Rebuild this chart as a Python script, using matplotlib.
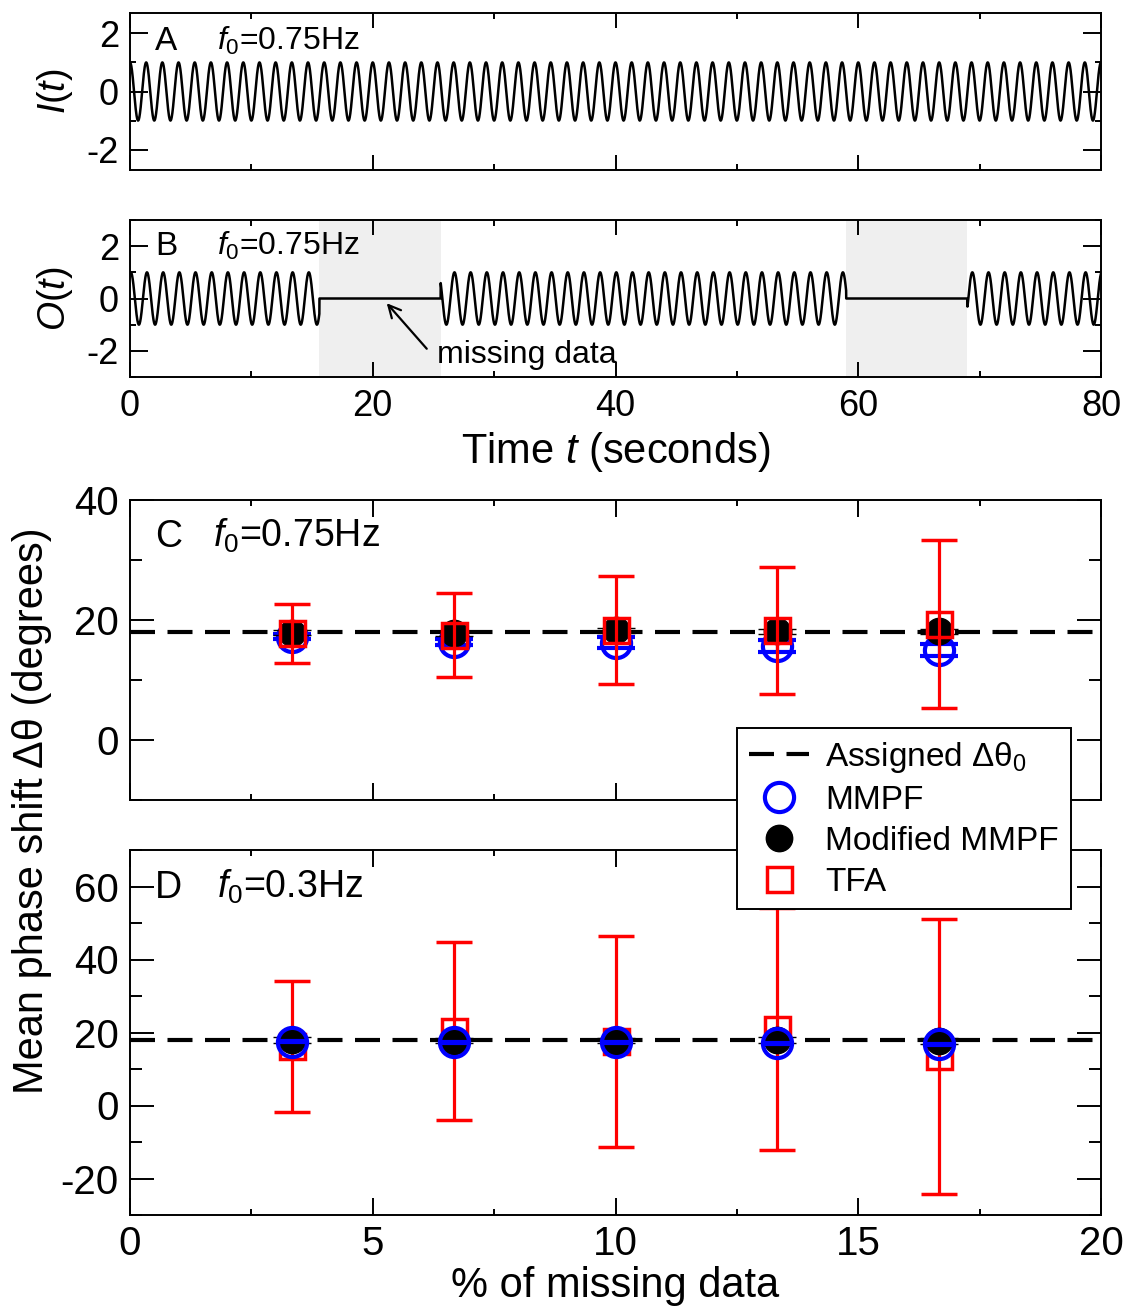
import numpy as np
import matplotlib
matplotlib.use("Agg")
import matplotlib.pyplot as plt
from matplotlib.lines import Line2D
from matplotlib.ticker import MultipleLocator


# -----------------------------
# Data
# -----------------------------
F0_TOP = 0.75          # Hz, test signal in panels A and B
PHASE_SHIFT = 18.0     # degrees, assigned phase shift
T_END = 80.0
GAPS = [(15.6, 25.6), (59.0, 69.0)]   # missing data intervals (s)

pct_missing = [3.33, 6.67, 10.0, 13.33, 16.67]

# panel C, f0 = 0.75 Hz
mmpf_c = [17.2, 16.3, 16.2, 15.6, 15.0]
mmpf_c_err = [0.4, 0.5, 0.9, 1.0, 1.0]
mod_c = [17.9, 17.8, 18.3, 18.1, 18.1]
mod_c_err = [0.4, 0.4, 0.4, 0.4, 0.4]
tfa_c = [17.8, 17.5, 18.3, 18.3, 19.3]
tfa_c_err = [4.9, 7.0, 9.0, 10.6, 14.0]

# panel D, f0 = 0.3 Hz
mmpf_d = [17.5, 17.3, 17.3, 17.0, 16.8]
mmpf_d_err = [0.15, 0.15, 0.15, 0.15, 0.15]
mod_d = [17.9, 17.8, 17.8, 17.9, 17.7]
mod_d_err = [0.8, 0.8, 0.8, 0.8, 0.8]
tfa_d = [16.2, 20.4, 17.6, 21.0, 13.5]
tfa_d_err = [17.9, 24.5, 28.9, 33.1, 37.7]


# -----------------------------
# Style
# -----------------------------
plt.rcParams["font.family"] = ["Liberation Sans", "DejaVu Sans"]
plt.rcParams["mathtext.fontset"] = "custom"
plt.rcParams["mathtext.rm"] = "Liberation Sans"
plt.rcParams["mathtext.it"] = "Liberation Sans:italic"
plt.rcParams["axes.unicode_minus"] = False
plt.rcParams["axes.linewidth"] = 1.4

W, H = 1128, 1309
fig = plt.figure(figsize=(W / 100, H / 100), dpi=100)


def px_axes(left, top, right, bottom):
    return fig.add_axes([left / W, 1 - bottom / H, (right - left) / W, (bottom - top) / H])


def style_ticks(ax, xl, yl, size):
    ax.tick_params(which="both", direction="in", top=True, right=True,
                   width=1.4, labelsize=size)
    ax.tick_params(axis="x", which="major", length=xl[0], pad=xl[2])
    ax.tick_params(axis="x", which="minor", length=xl[1])
    ax.tick_params(axis="y", which="major", length=yl[0], pad=yl[2])
    ax.tick_params(axis="y", which="minor", length=yl[1])


# -----------------------------
# Panels A and B: time series
# -----------------------------
t = np.linspace(0, T_END, 8001)
i_sig = np.cos(2 * np.pi * F0_TOP * t)
o_sig = np.cos(2 * np.pi * F0_TOP * t - np.deg2rad(PHASE_SHIFT))
for g0, g1 in GAPS:
    o_sig[(t > g0) & (t < g1)] = 0.0

ax_a = px_axes(130, 13, 1101, 170)
ax_b = px_axes(130, 220, 1101, 377)

ax_a.plot(t, i_sig, color="black", lw=1.8)
ax_b.plot(t, o_sig, color="black", lw=1.8)
for g0, g1 in GAPS:
    ax_b.axvspan(g0, g1, color="#efefef", lw=0, zorder=0)

for ax, lim in [(ax_a, 2.7), (ax_b, 3.0)]:
    ax.set_xlim(0, T_END)
    ax.set_ylim(-lim, lim)
    ax.xaxis.set_major_locator(MultipleLocator(20))
    ax.xaxis.set_minor_locator(MultipleLocator(10))
    ax.yaxis.set_major_locator(MultipleLocator(2))
    ax.yaxis.set_minor_locator(MultipleLocator(1))
    style_ticks(ax, (11, 4, 9), (13, 4, 8), 26)

ax_a.tick_params(axis="x", labelbottom=False)
ax_a.set_ylabel("$I$($t$)", fontsize=27, labelpad=8)
ax_b.set_ylabel("$O$($t$)", fontsize=27, labelpad=8)
ax_b.set_xlabel("Time $t$ (seconds)", fontsize=30, labelpad=4)

ax_a.text(0.026, 0.764, "A", transform=ax_a.transAxes, fontsize=24)
ax_a.text(0.09, 0.764, "$f_0$=0.75Hz", transform=ax_a.transAxes, fontsize=23)
ax_b.text(0.026, 0.777, "B", transform=ax_b.transAxes, fontsize=24)
ax_b.text(0.09, 0.777, "$f_0$=0.75Hz", transform=ax_b.transAxes, fontsize=23)

ax_b.annotate("", xy=(21.0, -0.1), xytext=(24.6, -2.0),
              arrowprops=dict(arrowstyle="->", color="black", lw=1.6,
                              mutation_scale=22))
ax_b.text(25.3, -2.45, "missing data", fontsize=23)


# -----------------------------
# Panels C and D: mean phase shift
# -----------------------------
ax_c = px_axes(130, 500, 1101, 800)
ax_d = px_axes(130, 850, 1101, 1215)


def draw_series(ax, y, err, color, marker, face, ms, mew, capsize, z):
    ax.errorbar(pct_missing, y, yerr=err, fmt=marker, color=color,
                mfc=face, mec=color, ms=ms, mew=mew, ecolor=color,
                elinewidth=2.3, capsize=capsize, capthick=2.3, zorder=z)


for ax in (ax_c, ax_d):
    ax.axhline(PHASE_SHIFT, color="black", lw=3, dashes=(6, 3), zorder=2)

# panel C: blue below, red on top
draw_series(ax_c, mmpf_c, mmpf_c_err, "blue", "o", "none", 21, 3, 14, 3)
draw_series(ax_c, mod_c, mod_c_err, "black", "o", "black", 19, 1, 14, 4)
draw_series(ax_c, tfa_c, tfa_c_err, "red", "s", "none", 18, 2.5, 13, 5)

# panel D: red below, blue on top
draw_series(ax_d, tfa_d, tfa_d_err, "red", "s", "none", 18, 2.5, 13, 3)
draw_series(ax_d, mod_d, mod_d_err, "black", "o", "black", 19, 1, 14, 4)
draw_series(ax_d, mmpf_d, mmpf_d_err, "blue", "o", "none", 21, 3, 10, 5)

ax_c.set_ylim(-10, 40)
ax_d.set_ylim(-30, 70)
for ax in (ax_c, ax_d):
    ax.set_xlim(0, 20)
    ax.xaxis.set_major_locator(MultipleLocator(5))
    ax.xaxis.set_minor_locator(MultipleLocator(2.5))
    ax.yaxis.set_major_locator(MultipleLocator(20))
    ax.yaxis.set_minor_locator(MultipleLocator(10))
    style_ticks(ax, (12, 4.5, 7), (17, 8.5, 8), 29)

ax_c.tick_params(axis="x", labelbottom=False)
ax_d.set_xlabel("% of missing data", fontsize=30, labelpad=2)
fig.text(32 / W, 1 - 811 / H, "Mean phase shift Δθ (degrees)",
         rotation=90, fontsize=30, ha="center", va="center")

ax_c.text(0.026, 0.843, "C", transform=ax_c.transAxes, fontsize=27)
ax_c.text(0.085, 0.843, "$f_0$=0.75Hz", transform=ax_c.transAxes, fontsize=27)
ax_d.text(0.026, 0.868, "D", transform=ax_d.transAxes, fontsize=27)
ax_d.text(0.09, 0.868, "$f_0$=0.3Hz", transform=ax_d.transAxes, fontsize=27)

handles = [
    Line2D([], [], color="black", lw=3, dashes=(6, 3)),
    Line2D([], [], ls="none", marker="o", ms=21, mfc="none", mec="blue", mew=3),
    Line2D([], [], ls="none", marker="o", ms=19, mfc="black", mec="black"),
    Line2D([], [], ls="none", marker="s", ms=18, mfc="none", mec="red", mew=2.5),
]
labels = ["Assigned Δθ$_0$", "MMPF", "Modified MMPF", "TFA"]
leg = fig.legend(handles, labels, loc="upper left",
                 bbox_to_anchor=(737 / W, 1 - 728 / H), fontsize=24,
                 frameon=True, fancybox=False, edgecolor="black",
                 framealpha=1, handlelength=1.8, handletextpad=0.5,
                 labelspacing=0.3, borderpad=0.35, borderaxespad=0)
leg.get_frame().set_linewidth(1.4)

fig.savefig("out.png", dpi=100)
